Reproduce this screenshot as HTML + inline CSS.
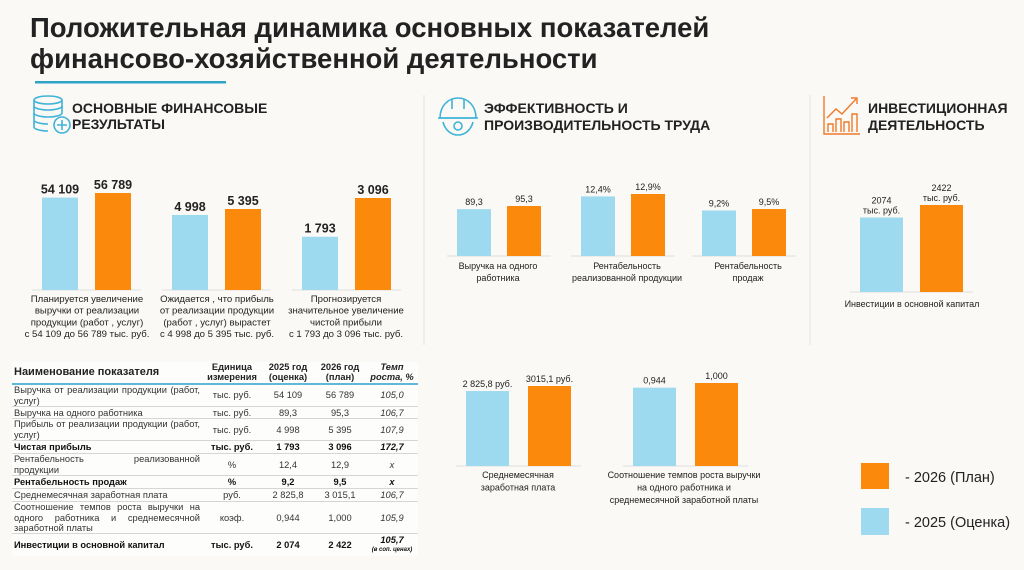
<!DOCTYPE html>
<html lang="ru"><head><meta charset="utf-8">
<style>
html,body{margin:0;padding:0;}
body{width:1024px;height:570px;overflow:hidden;background:#faf9f6;font-family:"Liberation Sans","DejaVu Sans",sans-serif;color:#222;position:relative;}
svg{position:absolute;left:0;top:0;}
#tbl{position:absolute;left:12px;top:362px;width:406px;border-collapse:collapse;font-size:9.3px;line-height:10.4px;color:#333;table-layout:fixed;background:#fdfdfc;}
#tbl td,#tbl th{padding:0 2px;border-bottom:1px solid #d6d6d6;vertical-align:middle;}
#tbl th{font-weight:bold;color:#222;text-align:center;border-bottom:2px solid #5fb8da;height:19px;}
#tbl th.n{text-align:left;font-size:11px;}
#tbl td{text-align:center;}
#tbl td.n{text-align:justify;text-align-last:left;}
#tbl tr.b td{font-weight:bold;color:#111;}
#tbl td.t,#tbl th.t{font-style:italic;}
</style></head><body>
<svg id="page" width="1024" height="570" viewBox="0 0 1024 570" xmlns="http://www.w3.org/2000/svg" font-family="Liberation Sans, DejaVu Sans, sans-serif">
  <text x="30" y="37" font-size="27.5" font-weight="bold" fill="#222">Положительная динамика основных показателей</text>
  <text x="30" y="68" font-size="27.5" font-weight="bold" fill="#222">финансово-хозяйственной деятельности</text>
  <rect x="35" y="81" width="191" height="2.5" fill="#2fa3c6"/>
  <line x1="424" y1="95" x2="424" y2="345" stroke="#e6e4df" stroke-width="1"/>
  <line x1="810" y1="95" x2="810" y2="345" stroke="#e6e4df" stroke-width="1"/>
  <g fill="none" stroke="#3fb3d8" stroke-width="1.6">
    <ellipse cx="48" cy="100" rx="14" ry="4"/>
    <path d="M34 100v6c0 2 6 4 14 4s14-2 14-4v-6M34 106v7c0 2 6 4 14 4s14-2 14-4M34 113v7c0 2 6 4 14 4M34 120v7c0 2 6 4 14 4"/>
    <path d="M62 106v7"/>
    <circle cx="62" cy="125" r="8"/><path d="M62 120v10M57 125h10"/>
  </g>
  <text font-size="14" font-weight="bold" fill="#222"><tspan x="72" y="113">ОСНОВНЫЕ ФИНАНСОВЫЕ</tspan><tspan x="72" y="129">РЕЗУЛЬТАТЫ</tspan></text>
  <g fill="none" stroke="#3fb3d8" stroke-width="1.6">
    <path d="M440 118c0-12 8-20 18-20s18 8 18 20z"/><path d="M452 99v10M464 99v10M438 118h40"/>
    <path d="M443 122c2 8 8 13 15 13s13-5 15-13"/><circle cx="458" cy="126" r="4"/>
  </g>
  <text font-size="14" font-weight="bold" fill="#222"><tspan x="484" y="113">ЭФФЕКТИВНОСТЬ И</tspan><tspan x="484" y="130">ПРОИЗВОДИТЕЛЬНОСТЬ ТРУДА</tspan></text>
  <g fill="none" stroke="#f07a2a" stroke-width="1.4">
    <path d="M824 96v38h36"/><path d="M828 132v-8h5v8M836 132v-13h5v13M844 132v-10h5v10M852 132v-18h5v18"/>
    <path d="M827 118l9-9 6 5 14-15"/><path d="M851 98h6v6"/>
  </g>
  <text font-size="14" font-weight="bold" fill="#222"><tspan x="868" y="113">ИНВЕСТИЦИОННАЯ</tspan><tspan x="868" y="130">ДЕЯТЕЛЬНОСТЬ</tspan></text>

  <g id="charts"></g>

  <rect x="861" y="463" width="28" height="26" fill="#fb8a0c"/>
  <text x="905" y="482" font-size="14.5" fill="#222">- 2026 (План)</text>
  <rect x="861" y="508" width="28" height="27" fill="#9dd9ef"/>
  <text x="905" y="527" font-size="14.5" fill="#222">- 2025 (Оценка)</text>
</svg>

<table id="tbl">
<colgroup><col style="width:190px"><col style="width:60px"><col style="width:52px"><col style="width:52px"><col style="width:52px"></colgroup>
<tr style="height:21px"><th class="n">Наименование показателя</th><th>Единица измерения</th><th>2025 год (оценка)</th><th>2026 год (план)</th><th class="t">Темп роста, %</th></tr>
<tr style="height:23px"><td class="n">Выручка от реализации продукции (работ, услуг)</td><td>тыс. руб.</td><td>54 109</td><td>56 789</td><td class="t">105,0</td></tr>
<tr style="height:12px"><td class="n">Выручка на одного работника</td><td>тыс. руб.</td><td>89,3</td><td>95,3</td><td class="t">106,7</td></tr>
<tr style="height:22px"><td class="n">Прибыль от реализации продукции (работ, услуг)</td><td>тыс. руб.</td><td>4 998</td><td>5 395</td><td class="t">107,9</td></tr>
<tr class="b" style="height:13px"><td class="n">Чистая прибыль</td><td>тыс. руб.</td><td>1 793</td><td>3 096</td><td class="t">172,7</td></tr>
<tr style="height:21px"><td class="n">Рентабельность реализованной продукции</td><td>%</td><td>12,4</td><td>12,9</td><td class="t">x</td></tr>
<tr class="b" style="height:13px"><td class="n">Рентабельность продаж</td><td>%</td><td>9,2</td><td>9,5</td><td class="t">x</td></tr>
<tr style="height:13px"><td class="n">Среднемесячная заработная плата</td><td>руб.</td><td>2 825,8</td><td>3 015,1</td><td class="t">106,7</td></tr>
<tr style="height:32px"><td class="n">Соотношение темпов роста выручки на одного работника и среднемесячной заработной платы</td><td>коэф.</td><td>0,944</td><td>1,000</td><td class="t">105,9</td></tr>
<tr class="b" style="height:22px"><td class="n" style="border-bottom:none">Инвестиции в основной капитал</td><td style="border-bottom:none">тыс. руб.</td><td style="border-bottom:none">2 074</td><td style="border-bottom:none">2 422</td><td class="t" style="border-bottom:none;line-height:8px">105,7<br><span style="font-size:6px">(в соп. ценах)</span></td></tr>
</table>

<script>
const finCategories = ["Выручка от реализации", "Прибыль от реализации", "Чистая прибыль"];
const fin2025 = [54109, 4998, 1793];
const fin2026 = [56789, 5395, 3096];
const fin2025Labels = ["54 109", "4 998", "1 793"];
const fin2026Labels = ["56 789", "5 395", "3 096"];

const effCategories = ["Выручка на одного работника", "Рентабельность реализованной продукции", "Рентабельность продаж"];
const eff2025 = [89.3, 12.4, 9.2];
const eff2026 = [95.3, 12.9, 9.5];
const eff2025Labels = ["89,3", "12,4%", "9,2%"];
const eff2026Labels = ["95,3", "12,9%", "9,5%"];

const invCategories = ["Инвестиции в основной капитал"];
const inv2025 = [2074];
const inv2026 = [2422];
const inv2025Labels = ["2074"];
const inv2026Labels = ["2422"];

const wageCategories = ["Среднемесячная заработная плата", "Соотношение темпов роста"];
const wage2025 = [2825.8, 0.944];
const wage2026 = [3015.1, 1.000];
const wage2025Labels = ["2 825,8 руб.", "0,944"];
const wage2026Labels = ["3015,1 руб.", "1,000"];

const NS = "http://www.w3.org/2000/svg";
const root = document.getElementById("charts");
const C25 = "#9dd9ef", C26 = "#fb8a0c";

function mk(tag, attrs, parent) {
  const e = document.createElementNS(NS, tag);
  for (const k in attrs) e.setAttribute(k, attrs[k]);
  (parent || root).appendChild(e);
  return e;
}
function yScale(base, maxVal, maxH) { return v => base - v / maxVal * maxH; }

function drawGroups(cfg) {
  cfg.cats.forEach((cat, i) => {
    const maxVal = Math.max(cfg.v25[i], cfg.v26[i]);
    const y = yScale(cfg.base, maxVal, cfg.maxH[i]);
    const x0 = cfg.x[i], x1 = cfg.x[i] + cfg.off;
    const g = mk("g", {});
    
    
    const ln = mk("line", {x1: x0 - 10, x2: x1 + cfg.w + 10, y1: cfg.base, y2: cfg.base, stroke: "#dedede", "stroke-width": 1}, g);
    
    
    [[cfg.v25[i], x0, C25, cfg.l25[i], "2025"], [cfg.v26[i], x1, C26, cfg.l26[i], "2026"]].forEach(([v, x, col, lab, yr]) => {
      const r = mk("rect", {x: x, y: y(v), width: cfg.w, height: cfg.base - y(v), fill: col}, g);
      
      
      const lines = cfg.unitLine ? [lab, "тыс. руб."] : [lab];
      lines.forEach((s, k) => {
        const t = mk("text", {x: x + cfg.w / 2, y: y(v) - 4 - (lines.length - 1 - k) * 10, "text-anchor": "middle", "font-size": cfg.fs, "font-weight": cfg.fw, fill: "#222"}, g);
        t.textContent = s;
        
        
      });
    });
    cfg.caps[i].forEach((s, k) => {
      const t = mk("text", {x: cfg.capX[i], y: cfg.capY + k * cfg.capLH, "text-anchor": "middle", "font-size": cfg.capFs, "font-weight": cfg.capFw, fill: "#222"}, g);
      t.textContent = s;
      
      
    });
  });
}

drawGroups({name: "finance", cats: finCategories, v25: fin2025, v26: fin2026, l25: fin2025Labels, l26: fin2026Labels,
  x: [42, 172, 302], off: 53, w: 36, base: 290, maxH: [97, 81, 92], fs: 12.5, fw: "bold",
  capX: [87, 217, 346], capY: 302, capLH: 11.7, capFs: 9.6, capFw: "normal",
  caps: [["Планируется увеличение", "выручки от реализации", "продукции (работ , услуг)", "с 54 109 до 56 789 тыс. руб."],
         ["Ожидается , что прибыль", "от реализации продукции", "(работ , услуг) вырастет", "с 4 998 до 5 395 тыс. руб."],
         ["Прогнозируется", "значительное увеличение", "чистой прибыли", "с 1 793 до 3 096 тыс. руб."]]});

drawGroups({name: "labor", cats: effCategories, v25: eff2025, v26: eff2026, l25: eff2025Labels, l26: eff2026Labels,
  x: [457, 581, 702], off: 50, w: 34, base: 256, maxH: [50, 62, 47], fs: 9, fw: "normal",
  capX: [498, 627, 748], capY: 269, capLH: 12, capFs: 9, capFw: "normal",
  caps: [["Выручка на одного", "работника"], ["Рентабельность", "реализованной продукции"], ["Рентабельность", "продаж"]]});

drawGroups({name: "invest", cats: invCategories, v25: inv2025, v26: inv2026, l25: inv2025Labels, l26: inv2026Labels,
  x: [860], off: 60, w: 43, base: 292, maxH: [87], fs: 9, fw: "normal", unitLine: true,
  capX: [912], capY: 307, capLH: 12, capFs: 9, capFw: "normal",
  caps: [["Инвестиции в основной капитал"]]});

drawGroups({name: "wage", cats: wageCategories, v25: wage2025, v26: wage2026, l25: wage2025Labels, l26: wage2026Labels,
  x: [466, 633], off: 62, w: 43, base: 466, maxH: [80, 83], fs: 9, fw: "normal",
  capX: [518, 684], capY: 478, capLH: 12.5, capFs: 9, capFw: "normal",
  caps: [["Среднемесячная", "заработная плата"], ["Соотношение темпов роста выручки", "на одного работника и", "среднемесячной заработной платы"]]});
</script>
</body></html>
